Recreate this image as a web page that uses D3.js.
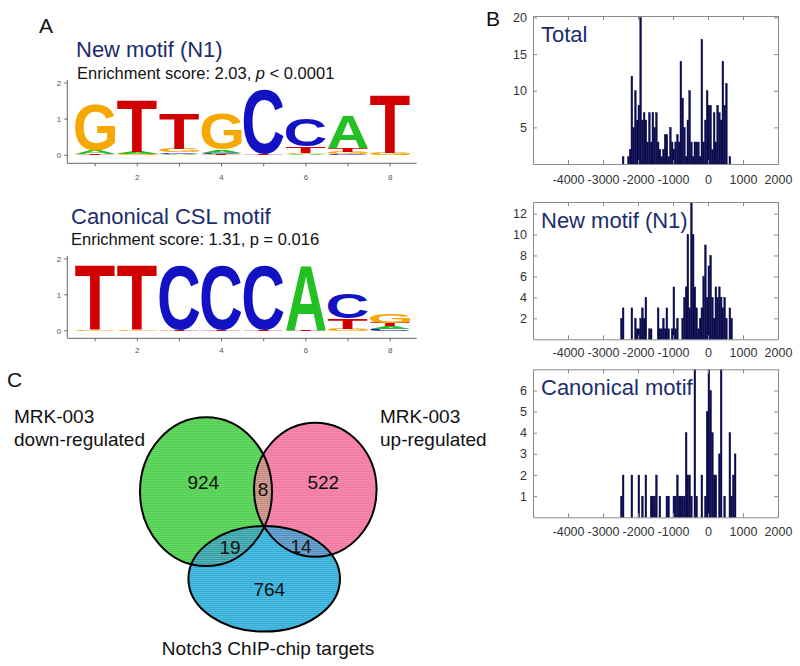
<!DOCTYPE html>
<html>
<head>
<meta charset="utf-8">
<script src="https://cdn.jsdelivr.net/npm/d3@7"></script>
<style>
  body { margin: 0; background: #fff; }
  svg { display: block; }
  text { font-family: "Liberation Sans", Arial, sans-serif; }
</style>
</head>
<body>
<div id="chart"></div>
<script>
// ---- data ----
// sequence logos: stacks listed bottom -> top, [base, bits]
const logoPositions = [1, 2, 3, 4, 5, 6, 7, 8];
const newMotifStacks = [
  [["T", 0.03], ["A", 0.09], ["G", 1.28]],
  [["G", 0.05], ["A", 0.05], ["T", 1.42]],
  [["A", 0.04], ["C", 0.04], ["G", 0.10], ["T", 0.97]],
  [["T", 0.03], ["C", 0.04], ["A", 0.08], ["G", 0.97]],
  [["T", 0.03], ["C", 1.79]],
  [["A", 0.03], ["G", 0.04], ["T", 0.18], ["C", 0.75]],
  [["C", 0.04], ["G", 0.05], ["T", 0.10], ["A", 0.88]],
  [["A", 0.02], ["G", 0.05], ["T", 1.60]]
];
const cslMotifStacks = [
  [["G", 0.03], ["T", 1.80]],
  [["G", 0.03], ["T", 1.80]],
  [["T", 0.03], ["C", 1.80]],
  [["T", 0.03], ["C", 1.80]],
  [["T", 0.03], ["C", 1.80]],
  [["T", 0.03], ["A", 1.80]],
  [["G", 0.06], ["T", 0.28], ["C", 0.70]],
  [["C", 0.06], ["A", 0.06], ["T", 0.10], ["G", 0.25]]
];
const logoXTicks = [2, 4, 6, 8];
const logoYTicks = [0, 1, 2];

// histograms: 50 bp bins starting at -2500
const binStart = -2500;
const binWidth = 50;
const totalCounts = [0,1,0,0,1,2,12,5,10,6,8,20,6,7,6,3,7,3,7,5,7,3,2,1,2,4,4,1,5,3,2,3,4,3,14,9,5,1,6,10,3,1,3,3,3,1,17,3,6,10,8,8,2,7,3,8,7,6,14,8,11,0,1,0,0,0];
const n1Counts    = [2,3,0,0,0,0,3,0,2,1,1,2,3,2,4,0,1,1,0,0,0,3,1,1,2,1,3,1,0,1,5,1,2,0,0,2,4,5,10,3,13,10,5,3,1,2,3,6,9,4,7,8,4,2,5,4,5,4,3,4,2,0,3,2,0,0];
const cslCounts   = [1,2,0,0,0,0,2,0,0,0,2,0,1,0,2,0,0,1,1,1,2,0,1,0,0,0,1,1,0,0,1,1,2,1,1,1,1,4,2,2,1,0,7,1,0,0,2,0,1,5,7,6,4,2,2,0,3,7,0,1,0,0,4,1,2,3];
const histXTicks = [-4000, -3000, -2000, -1000, 0, 1000, 2000];

// venn counts: down only, down&up, up only, down&chip, up&chip, chip only
const vennCounts = [924, 8, 522, 19, 14, 764];

// ---- drawing ----
const svg = d3.select("#chart").append("svg")
  .attr("width", 800).attr("height", 666);

const baseColor = { A: "#22c022", C: "#1212c4", G: "#f7a800", T: "#d00000" };
const navy = "#1c2d6b";

// tight ink boxes of letters via canvas
const ctx = document.createElement("canvas").getContext("2d");
ctx.font = "bold 100px 'Liberation Sans'";
const glyph = {};
"ACGT".split("").forEach(ch => {
  const m = ctx.measureText(ch);
  glyph[ch] = { l: m.actualBoundingBoxLeft, r: m.actualBoundingBoxRight,
                a: m.actualBoundingBoxAscent, d: m.actualBoundingBoxDescent };
});

const logoX = d3.scaleLinear().domain([0.34, 8.63]).range([67.3, 416.7]);

function drawLogo(stacks, yDomain, yRange, labelY) {
  const y = d3.scaleLinear().domain(yDomain).range(yRange);
  const g = svg.append("g");

  stacks.forEach((stack, i) => {
    const p = logoPositions[i];
    let base = 0;
    stack.forEach(([ch, h]) => {
      const x0 = logoX(p - 0.475), x1 = logoX(p + 0.475);
      const yTop = y(base + h), yBot = y(base);
      const gl = glyph[ch];
      const sx = (x1 - x0) / (gl.l + gl.r);
      const sy = (yBot - yTop) / (gl.a + gl.d);
      g.append("text")
        .attr("transform", `translate(${x0},${yTop}) scale(${sx},${sy}) translate(${gl.l},${gl.a})`)
        .attr("font-size", 100)
        .attr("font-weight", "bold")
        .attr("fill", baseColor[ch])
        .text(ch);
      base += h;
    });
  });

  // axes
  const axisColor = "#666";
  g.append("line").attr("x1", logoX.range()[0]).attr("x2", logoX.range()[1])
    .attr("y1", yRange[0]).attr("y2", yRange[0]).attr("stroke", axisColor);
  g.append("line").attr("x1", logoX.range()[0]).attr("x2", logoX.range()[0])
    .attr("y1", yRange[0]).attr("y2", yRange[1]).attr("stroke", axisColor);

  logoPositions.forEach(p => {
    g.append("line").attr("x1", logoX(p)).attr("x2", logoX(p))
      .attr("y1", yRange[0]).attr("y2", yRange[0] + 3).attr("stroke", axisColor);
  });
  logoXTicks.forEach(p => {
    g.append("text").attr("x", logoX(p)).attr("y", labelY)
      .attr("text-anchor", "middle").attr("font-size", 8).attr("fill", "#555")
      .text(p);
  });
  logoYTicks.forEach(v => {
    g.append("line").attr("x1", logoX.range()[0] - 3).attr("x2", logoX.range()[0])
      .attr("y1", y(v)).attr("y2", y(v)).attr("stroke", axisColor);
    g.append("text").attr("x", logoX.range()[0] - 6).attr("y", y(v) + 3)
      .attr("text-anchor", "end").attr("font-size", 8).attr("fill", "#555")
      .text(v);
  });
}

// Panel A
svg.append("text").attr("x", 39).attr("y", 33).attr("font-size", 21).attr("fill", "#111").text("A");

svg.append("text").attr("x", 76).attr("y", 57).attr("font-size", 22).attr("fill", navy).text("New motif (N1)");
const es1 = svg.append("text").attr("x", 77).attr("y", 79).attr("font-size", 16.5).attr("fill", "#111");
es1.append("tspan").text("Enrichment score: 2.03, ");
es1.append("tspan").attr("font-style", "italic").text("p");
es1.append("tspan").text(" < 0.0001");
drawLogo(newMotifStacks, [-0.22, 2.08], [163.3, 80], 180);

svg.append("text").attr("x", 71).attr("y", 224).attr("font-size", 22).attr("fill", navy).text("Canonical CSL motif");
svg.append("text").attr("x", 71).attr("y", 245).attr("font-size", 16.5).attr("fill", "#111")
  .text("Enrichment score: 1.31, p = 0.016");
drawLogo(cslMotifStacks, [-0.21, 2.08], [338.3, 256], 353);

// Panel B
svg.append("text").attr("x", 486).attr("y", 26).attr("font-size", 21).attr("fill", "#111").text("B");

const histX = d3.scaleLinear().domain([-5000, 2000]).range([533, 778]);
const fmt = d => String(d);   // plain hyphen-minus like the original

function drawHist(counts, title, top, bottom, yMax, yTicks, pad) {
  const y = d3.scaleLinear().domain([0, yMax]).range([bottom, top]);
  const g = svg.append("g");
  const frame = "#8a8a8a";

  g.append("g").selectAll("rect")
    .data(counts.map((c, i) => ({ c, i })).filter(d => d.c > 0))
    .join("rect")
    .attr("x", d => histX(binStart + d.i * binWidth))
    .attr("width", histX(binWidth) - histX(0))
    .attr("y", d => y(Math.min(d.c, yMax)))
    .attr("height", d => y(0) - y(Math.min(d.c, yMax)))
    .attr("fill", "#0c0c4e")
    .attr("stroke", "#0c0c4e")
    .attr("stroke-width", 0.4);

  const styleAxis = (sel, showText) => {
    sel.select(".domain").attr("stroke", frame);
    sel.selectAll(".tick line").attr("stroke", frame);
    sel.selectAll(".tick text").attr("fill", "#333").attr("font-size", 12.5)
      .attr("font-family", "'Liberation Sans', Arial, sans-serif")
      .style("display", showText ? null : "none");
  };

  g.append("g").attr("transform", `translate(0,${bottom})`)
    .call(d3.axisBottom(histX).tickValues(histXTicks).tickFormat(fmt)
      .tickSize(-4).tickPadding(pad).tickSizeOuter(0))
    .call(s => styleAxis(s, true));
  g.append("g").attr("transform", `translate(0,${top})`)
    .call(d3.axisTop(histX).tickValues(histXTicks).tickSize(-4).tickSizeOuter(0))
    .call(s => styleAxis(s, false));
  g.append("g").attr("transform", `translate(${histX.range()[0]},0)`)
    .call(d3.axisLeft(y).tickValues(yTicks).tickFormat(fmt)
      .tickSize(-4).tickPadding(6).tickSizeOuter(0))
    .call(s => styleAxis(s, true));
  g.append("g").attr("transform", `translate(${histX.range()[1]},0)`)
    .call(d3.axisRight(y).tickValues(yTicks).tickSize(-4).tickSizeOuter(0))
    .call(s => styleAxis(s, false));

  g.append("text").attr("x", 541).attr("y", top + 26).attr("font-size", 22)
    .attr("fill", navy).text(title);
}

drawHist(totalCounts, "Total", 16, 164, 20.2, [5, 10, 15, 20], 11);
drawHist(n1Counts, "New motif (N1)", 202, 339.3, 13.1, [2, 4, 6, 8, 10, 12], 9);
drawHist(cslCounts, "Canonical motif", 369.3, 517.3, 7, [1, 2, 3, 4, 5, 6], 10);

// Panel C - Venn
svg.append("text").attr("x", 7).attr("y", 387).attr("font-size", 21).attr("fill", "#111").text("C");

const ellipses = [
  { id: "down", cx: 206, cy: 491.7, rx: 66, ry: 74.4, fill: "#52d052" },
  { id: "up",   cx: 315.3, cy: 489.7, rx: 61.3, ry: 67, fill: "#f27aa2" },
  { id: "chip", cx: 264.2, cy: 578.8, rx: 75.8, ry: 52.8, fill: "#36b0da" }
];

const defs = svg.append("defs");
ellipses.forEach(e => {
  defs.append("clipPath").attr("id", "clip-" + e.id)
    .append("ellipse").attr("cx", e.cx).attr("cy", e.cy).attr("rx", e.rx).attr("ry", e.ry);
});
// fine grid texture
const pat = defs.append("pattern").attr("id", "grid").attr("width", 2).attr("height", 2)
  .attr("patternUnits", "userSpaceOnUse");
pat.append("rect").attr("width", 2).attr("height", 1).attr("fill", "#fff").attr("opacity", 0.12);

const venn = svg.append("g");
ellipses.forEach(e => {
  venn.append("ellipse").attr("cx", e.cx).attr("cy", e.cy).attr("rx", e.rx).attr("ry", e.ry)
    .attr("fill", e.fill);
});
// overlaps
const overlap = (a, b, color) => {
  const eb = ellipses.find(e => e.id === b);
  venn.append("g").attr("clip-path", `url(#clip-${a})`)
    .append("ellipse").attr("cx", eb.cx).attr("cy", eb.cy).attr("rx", eb.rx).attr("ry", eb.ry)
    .attr("fill", color);
};
overlap("down", "up", "#c4877c");
overlap("down", "chip", "#2e9ea4");
overlap("up", "chip", "#4f8ec2");

ellipses.forEach(e => {
  venn.append("ellipse").attr("cx", e.cx).attr("cy", e.cy).attr("rx", e.rx).attr("ry", e.ry)
    .attr("fill", "url(#grid)");
});
ellipses.forEach(e => {
  venn.append("ellipse").attr("cx", e.cx).attr("cy", e.cy).attr("rx", e.rx).attr("ry", e.ry)
    .attr("fill", "none").attr("stroke", "#000").attr("stroke-width", 2);
});

const vennLabelPos = [[203.3, 489], [263, 496], [323.3, 489], [230, 554], [301, 553], [269.3, 596]];
vennCounts.forEach((v, i) => {
  venn.append("text").attr("x", vennLabelPos[i][0]).attr("y", vennLabelPos[i][1])
    .attr("text-anchor", "middle").attr("font-size", 19).attr("fill", "#111").text(v);
});

const setLabel = (x, y, lines, anchor) => {
  const t = svg.append("text").attr("x", x).attr("y", y).attr("font-size", 19)
    .attr("fill", "#111").attr("text-anchor", anchor);
  lines.forEach((l, i) => t.append("tspan").attr("x", x).attr("dy", i ? 23 : 0).text(l));
};
setLabel(14, 423, ["MRK-003", "down-regulated"], "start");
setLabel(380, 423, ["MRK-003", "up-regulated"], "start");
setLabel(268, 655, ["Notch3 ChIP-chip targets"], "middle");
</script>
</body>
</html>
